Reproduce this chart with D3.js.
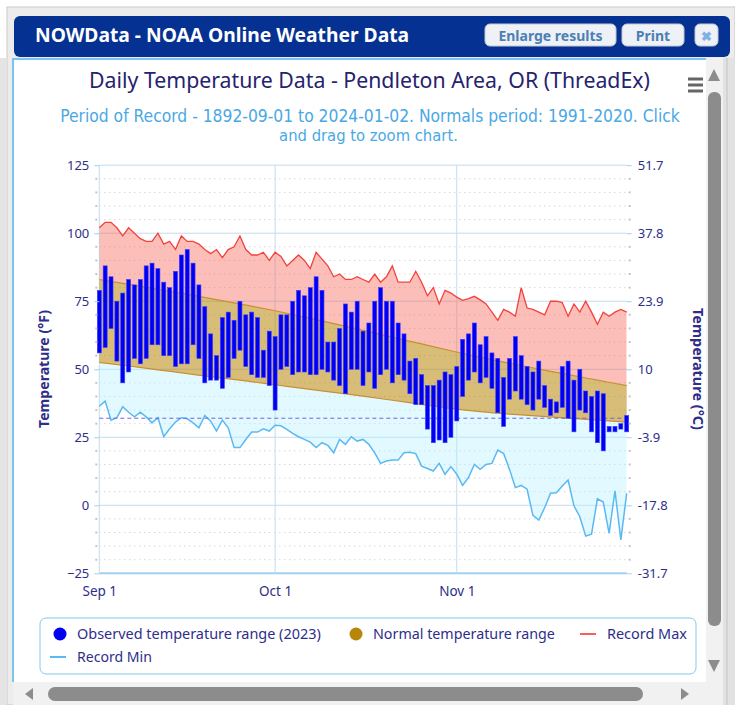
<!DOCTYPE html>
<html>
<head>
<meta charset="utf-8">
<script src="https://cdn.jsdelivr.net/npm/d3@7"></script>
<style>
  body { margin: 0; background: #fff; }
  svg { display: block; font-family: "Noto Sans", "Open Sans", sans-serif; }
</style>
</head>
<body>
<script>
// day index: 0 = Sep 1, 30 = Oct 1, 61 = Nov 1, 90 = Nov 30 (2023)
var obsHigh = [79,88,84,75,78,83,81,83,88,89, 87,82,80,86,92,94,89,81,73,63, 55,69,71,68,75,70,71,69,57,64,
               62,70,70,75,79,77,80,84,79,60, 60,65,74,71,75,64,67,75,80,75, 75,67,63,53,54,48,44,44,46,49, 48,
               51,61,63,67,59,62,56,54,47,54, 62,55,51,49,53,44,39,38,51,53, 46,50,42,40,42,41,29,29,30,33];
var obsLow  = [56,58,65,53,45,49,54,52,54,59, 59,55,55,51,52,52,59,54,45,46, 46,43,47,54,57,51,48,47,47,44,
               35,50,51,48,49,49,48,48,50,49, 46,44,41,50,50,44,49,43,48,50, 45,48,46,41,37,37,28,23,24,23, 25,
               31,40,46,49,45,47,43,34,29,39, 42,39,37,35,39,36,33,34,36,32, 27,35,34,27,23,20,27,27,28,27];
var recordMax = [102,104,104,102,99,102,100,98,97,97, 100,96,97,94,99,97,97,96,94,92.5, 94,91,94,95,99,94,92,92,93,90,
                 93,91.5,88,90,92,90,87,93,90.5,88, 84,85,83,83,84,83,82,85,82,84, 88,82,82,82,86,82,77,80,74,79, 78,
                 76.5,75.3,76,76.8,75.5,74,71,68,72,71, 69.5,80,72.5,72,71,70,75,75,74.5,69.5, 74,71,75,71,66.5,71,69.5,71,72,71];
var recordMin = [36.4,38.3,31.3,32.2,36.2,34.2,32.5,34.2,32.5,30.3, 32.2,25.2,28.1,30.6,32.2,31.8,30.3,28.5,33,30.9,
                 27.3,31.3,28.5,21.2,21.2,24.2,26.9,26.9,28.1,27.3,
                 29.4,29.2,27.9,26.4,25.2,24.2,23.2,21.2,23,22, 19.3,24.2,22.4,25.2,23.6,24.2,22.4,19.3,15.4,16.3,
                 16.6,16.6,19.3,19.5,19,14.4,13.5,12.6,15.4,11.4, 14.2,
                 11.4,7.3,10.2,15,13.2,15,15.4,20.3,19,13.2, 6.5,7.3,5.9,-3.7,-5.4,-0.9,4.4,4.6,7.1,9.3,
                 -0.2,-4.2,-11.3,-10.6,2.4,1.2,-10.3,5.3,-12.7,4.4];
var normalDays = [0,5,10,15,20,25,30,35,40,45,50,55,60,65,70,75,80,85,90];
var normalHigh = [83,81.2,79.4,77.5,75.6,73.6,71.5,69.2,66.8,64.3,61.8,59.3,56.8,54.4,52.2,50.1,48,46,44];
var normalLow  = [52.5,51.2,49.8,48.4,47,45.7,44.3,42.9,41.5,40.1,38.6,37.1,35.6,34.4,33.5,32.8,32,31.3,30.6];
var xTickDays = [0, 30, 61];
var xTickLabels = ["Sep 1", "Oct 1", "Nov 1"];
var fTicks = [-25, 0, 25, 50, 75, 100, 125];
var cLabels = ["-31.7", "-17.8", "-3.9", "10", "23.9", "37.8", "51.7"];
var freezing = 32;

var NAVY = "#2e2e8a";

var svg = d3.select("body").append("svg").attr("width", 735).attr("height", 705);

function fit(sel, w) {
  var len = sel.node().getComputedTextLength();
  var fs = parseFloat(sel.attr("font-size"));
  sel.attr("font-size", (fs * w / len).toFixed(2));
  return sel;
}

// WINDOW FRAME
svg.append("rect").attr("x", 0).attr("y", 0).attr("width", 735).attr("height", 705).attr("fill", "#fff");
svg.append("rect").attr("x", 7).attr("y", 7).attr("width", 728).attr("height", 698)
  .attr("fill", "#ececec").attr("stroke", "#c9c9c9");
svg.append("rect").attr("x", 0).attr("y", 58).attr("width", 7).attr("height", 647).attr("fill", "#e4e4e4");
svg.append("rect").attr("x", 14).attr("y", 16).attr("width", 716).attr("height", 41).attr("rx", 6)
  .attr("fill", "#053192");
fit(svg.append("text").attr("x", 35).attr("y", 42).attr("fill", "#fff").attr("font-weight", "bold")
  .attr("font-size", 19).text("NOWData - NOAA Online Weather Data"), 374);

var buttons = [["Enlarge results", 485, 131], ["Print", 622, 62], ["\u2716", 695, 23]];
buttons.forEach(function (b) {
  svg.append("rect").attr("x", b[1]).attr("y", 24).attr("width", b[2]).attr("height", 22).attr("rx", 5)
    .attr("fill", "#eef1f5").attr("stroke", "#c3c9d2");
  svg.append("text").attr("x", b[1] + b[2] / 2).attr("y", 40.5).attr("text-anchor", "middle")
    .attr("fill", b[0] == "\u2716" ? "#7fb1e3" : "#4d7fb4").attr("font-weight", "bold")
    .attr("font-size", b[0] == "\u2716" ? 13 : 14).text(b[0]);
});

// content panel
svg.append("rect").attr("x", 13).attr("y", 58).attr("width", 693).attr("height", 624).attr("fill", "#fff");
svg.append("line").attr("x1", 13).attr("x2", 13).attr("y1", 58).attr("y2", 682).attr("stroke", "#7cc4ec").attr("stroke-width", 2);
svg.append("line").attr("x1", 13).attr("x2", 706).attr("y1", 59).attr("y2", 59).attr("stroke", "#7cc4ec").attr("stroke-width", 2);

// scrollbars
svg.append("rect").attr("x", 706).attr("y", 58).attr("width", 17).attr("height", 624).attr("fill", "#f1f1f1");
svg.append("rect").attr("x", 708).attr("y", 92).attr("width", 13).attr("height", 534).attr("rx", 6).attr("fill", "#8c8c8c");
svg.append("path").attr("d", "M708,81 L720,81 L714,69 Z").attr("fill", "#8c8c8c");
svg.append("path").attr("d", "M708,660 L720,660 L714,672 Z").attr("fill", "#8c8c8c");
svg.append("rect").attr("x", 13).attr("y", 682).attr("width", 710).attr("height", 23).attr("fill", "#f1f1f1");
svg.append("rect").attr("x", 48).attr("y", 687).attr("width", 595).attr("height", 14).attr("rx", 7).attr("fill", "#8c8c8c");
svg.append("path").attr("d", "M33,688 L33,700 L25,694 Z").attr("fill", "#8c8c8c");
svg.append("path").attr("d", "M681,688 L681,700 L689,694 Z").attr("fill", "#8c8c8c");
svg.append("rect").attr("x", 723).attr("y", 58).attr("width", 12).attr("height", 647).attr("fill", "#e2e2e2");
svg.append("line").attr("x1", 727).attr("x2", 727).attr("y1", 58).attr("y2", 705).attr("stroke", "#c4c4c4");

// hamburger menu
[79, 85, 91].forEach(function (yy) {
  svg.append("rect").attr("x", 688).attr("y", yy - 1.5).attr("width", 15).attr("height", 3).attr("fill", "#666");
});

// TITLES
fit(svg.append("text").attr("x", 369.5).attr("y", 88).attr("text-anchor", "middle").attr("fill", "#26236e")
  .attr("font-size", 18).text("Daily Temperature Data - Pendleton Area, OR (ThreadEx)"), 561);
fit(svg.append("text").attr("x", 370).attr("y", 122).attr("text-anchor", "middle").attr("fill", "#4aa8e4")
  .attr("font-family", "\"DejaVu Sans Condensed\", \"DejaVu Sans\", sans-serif")
  .attr("font-size", 13).text("Period of Record - 1892-09-01 to 2024-01-02. Normals period: 1991-2020. Click"), 620);
fit(svg.append("text").attr("x", 368.5).attr("y", 141).attr("text-anchor", "middle").attr("fill", "#4aa8e4")
  .attr("font-family", "\"DejaVu Sans Condensed\", \"DejaVu Sans\", sans-serif")
  .attr("font-size", 13).text("and drag to zoom chart."), 179);

// SCALES
var x = d3.scaleLinear().domain([0, 90]).range([99.3, 626.7]);
var y = d3.scaleLinear().domain([-25, 125]).range([573.3, 165.2]);
var days = recordMax.map(function (d, i) { return i; });
var normals = normalDays.map(function (d, i) { return { day: d, high: normalHigh[i], low: normalLow[i] }; });

var g = svg.append("g");

// GRID
var minor = d3.range(-25, 126, 5).filter(function (v) { return fTicks.indexOf(v) < 0; });
g.selectAll(".minor").data(minor).enter().append("line")
  .attr("x1", x(0)).attr("x2", x(90)).attr("y1", function (d) { return y(d); }).attr("y2", function (d) { return y(d); })
  .attr("stroke", "#c4c4c4").attr("stroke-dasharray", "1,4");
g.selectAll(".major").data(fTicks).enter().append("line")
  .attr("x1", x(0)).attr("x2", x(90)).attr("y1", function (d) { return y(d); }).attr("y2", function (d) { return y(d); })
  .attr("stroke", function (d) { return d == -25 ? "#9fd0f0" : "#c3dcef"; })
  .attr("stroke-width", function (d) { return d == -25 ? 2 : 1; });
g.selectAll(".vgrid").data(xTickDays).enter().append("line")
  .attr("x1", function (d) { return x(d); }).attr("x2", function (d) { return x(d); })
  .attr("y1", y(125)).attr("y2", y(-25)).attr("stroke", "#c3dcef");

// CLIPS
var defs = svg.append("defs");
defs.append("clipPath").attr("id", "belowLow").append("path")
  .attr("d", d3.area().x(function (d) { return x(d.day); }).y0(y(-30)).y1(function (d) { return y(d.low); })
    .curve(d3.curveMonotoneX)(normals));
defs.append("clipPath").attr("id", "aboveHigh").append("path")
  .attr("d", d3.area().x(function (d) { return x(d.day); }).y0(y(130)).y1(function (d) { return y(d.high); })
    .curve(d3.curveMonotoneX)(normals));

// RECORD AREAS
g.append("path").datum(days).attr("clip-path", "url(#aboveHigh)")
  .attr("d", d3.area().x(function (d) { return x(d); }).y0(y(-25)).y1(function (d) { return y(recordMax[d]); }))
  .attr("fill", "rgba(247,110,98,0.45)");
g.append("path").datum(days).attr("clip-path", "url(#belowLow)")
  .attr("d", d3.area().x(function (d) { return x(d); }).y0(function (d) { return y(recordMin[d]); }).y1(y(125)))
  .attr("fill", "rgba(180,240,255,0.4)");

// NORMAL RANGE
g.append("path").datum(normals)
  .attr("d", d3.area().x(function (d) { return x(d.day); }).y0(function (d) { return y(d.low); })
    .y1(function (d) { return y(d.high); }).curve(d3.curveMonotoneX))
  .attr("fill", "rgba(184,134,11,0.55)");
["high", "low"].forEach(function (k) {
  g.append("path").datum(normals)
    .attr("d", d3.line().x(function (d) { return x(d.day); }).y(function (d) { return y(d[k]); }).curve(d3.curveMonotoneX))
    .attr("fill", "none").attr("stroke", "#c89032").attr("stroke-width", 1.2);
});

// RECORD LINES
g.append("path").datum(days)
  .attr("d", d3.line().x(function (d) { return x(d); }).y(function (d) { return y(recordMax[d]); }))
  .attr("fill", "none").attr("stroke", "#f4413c").attr("stroke-width", 1.3);
g.append("path").datum(days)
  .attr("d", d3.line().x(function (d) { return x(d); }).y(function (d) { return y(recordMin[d]); }))
  .attr("fill", "none").attr("stroke", "#5ab9f3").attr("stroke-width", 1.5);

// FREEZING LINE
g.append("line").attr("x1", x(0)).attr("x2", x(90)).attr("y1", y(freezing)).attr("y2", y(freezing))
  .attr("stroke", "#6f63e0").attr("stroke-width", 1).attr("stroke-dasharray", "4,3");

// OBSERVED BARS
g.selectAll(".bar").data(days).enter().append("rect")
  .attr("x", function (d) { return x(d) - 2; })
  .attr("y", function (d) { return y(obsHigh[d]); })
  .attr("width", 4)
  .attr("height", function (d) { return y(obsLow[d]) - y(obsHigh[d]); })
  .attr("fill", "#0000f5").attr("stroke", "#3c3cff").attr("stroke-width", 0.6);

// AXES
var axisL = svg.append("g").attr("transform", "translate(" + x(0) + ",0)")
  .call(d3.axisLeft(y).tickValues(fTicks).tickSize(5).tickPadding(5));
var axisR = svg.append("g").attr("transform", "translate(" + x(90) + ",0)")
  .call(d3.axisRight(y).tickValues(fTicks).tickSize(5).tickPadding(6)
    .tickFormat(function (d, i) { return cLabels[i]; }));
var axisB = svg.append("g").attr("transform", "translate(0," + y(-25) + ")")
  .call(d3.axisBottom(x).tickValues(xTickDays).tickSize(0).tickPadding(13)
    .tickFormat(function (d, i) { return xTickLabels[i]; }));
[axisL, axisR, axisB].forEach(function (a) {
  a.select(".domain").remove();
  a.selectAll("line").attr("stroke", "#9fd0f0");
  a.selectAll("text").attr("fill", NAVY).attr("font-size", 13)
    .attr("font-family", "\"Noto Sans\", sans-serif");
});
axisB.selectAll("text").attr("font-size", 13.5);
// minor ticks as dots
[x(0) - 3, x(90) + 3].forEach(function (xx) {
  svg.selectAll(null).data(minor).enter().append("rect")
    .attr("x", xx - 1).attr("y", function (d) { return y(d) - 1; }).attr("width", 2).attr("height", 2)
    .attr("fill", "#c4c4c4");
});

fit(svg.append("text").attr("transform", "translate(49,369) rotate(-90)").attr("text-anchor", "middle")
  .attr("fill", NAVY).attr("font-weight", "bold").attr("font-size", 13).text("Temperature (\u00b0F)"), 118);
fit(svg.append("text").attr("transform", "translate(693,369) rotate(90)").attr("text-anchor", "middle")
  .attr("fill", NAVY).attr("font-weight", "bold").attr("font-size", 13).text("Temperature (\u00b0C)"), 122);

// LEGEND
svg.append("rect").attr("x", 40).attr("y", 618).attr("width", 656).attr("height", 56).attr("rx", 6)
  .attr("fill", "#fff").attr("stroke", "#84c9ef");
var legendItems = [
  { label: "Observed temperature range (2023)", kind: "dot", color: "#0000f5", x: 60, y: 634, w: 244 },
  { label: "Normal temperature range", kind: "dot", color: "#b8860b", x: 356, y: 634, w: 182 },
  { label: "Record Max", kind: "line", color: "#f4615c", x: 588, y: 634, w: 80 },
  { label: "Record Min", kind: "line", color: "#5ab9f3", x: 58, y: 657, w: 75 }
];
legendItems.forEach(function (it) {
  if (it.kind == "dot") {
    svg.append("circle").attr("cx", it.x).attr("cy", it.y).attr("r", 6.5).attr("fill", it.color);
  } else {
    svg.append("line").attr("x1", it.x - 8).attr("x2", it.x + 8).attr("y1", it.y).attr("y2", it.y)
      .attr("stroke", it.color).attr("stroke-width", 2);
  }
  fit(svg.append("text").attr("x", it.x + (it.kind == "dot" ? 17 : 19)).attr("y", it.y + 5)
    .attr("fill", NAVY).attr("font-size", 13).text(it.label), it.w);
});
</script>
</body>
</html>
